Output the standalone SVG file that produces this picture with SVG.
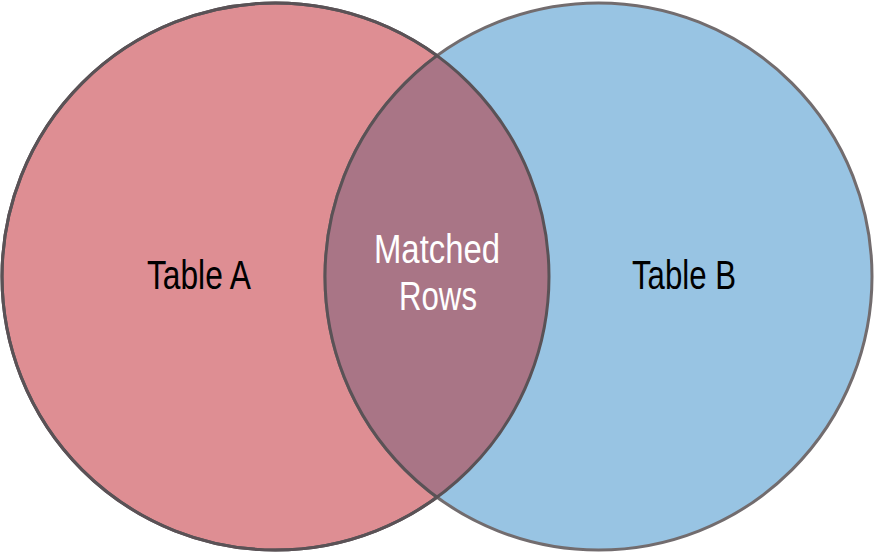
<svg xmlns="http://www.w3.org/2000/svg" width="875" height="552" viewBox="0 0 875 552">
  <style>
    .label { font-family: "Liberation Sans", Arial, sans-serif; font-size: 40px; text-anchor: middle; }
    .dark { fill: #000000; }
    .light { fill: #ffffff; }
  </style>
  <defs>
    <clipPath id="clipA">
      <circle cx="275.5" cy="276.5" r="273.5"/>
    </clipPath>
  </defs>
  <rect width="875" height="552" fill="#ffffff"/>
  <g id="tableA">
    <circle cx="275.5" cy="276.5" r="273.5" fill="#de8e93" stroke="#5a5256" stroke-width="3"/>
    <text class="label dark" x="199" y="289" textLength="104" lengthAdjust="spacingAndGlyphs">Table A</text>
  </g>
  <g id="tableB">
    <circle cx="598.5" cy="276.5" r="273.5" fill="#98c4e3" stroke="#726c6e" stroke-width="3"/>
    <text class="label dark" x="684" y="289" textLength="104" lengthAdjust="spacingAndGlyphs">Table B</text>
  </g>
  <g id="matched">
    <circle cx="598.5" cy="276.5" r="273.5" fill="#a97586" stroke="#5a5256" stroke-width="3" clip-path="url(#clipA)"/>
    <circle cx="275.5" cy="276.5" r="273.5" fill="none" stroke="#5a5256" stroke-width="3"/>
    <text class="label light" x="437" y="263" textLength="126" lengthAdjust="spacingAndGlyphs">Matched</text>
    <text class="label light" x="438" y="310" textLength="78" lengthAdjust="spacingAndGlyphs">Rows</text>
  </g>
</svg>
